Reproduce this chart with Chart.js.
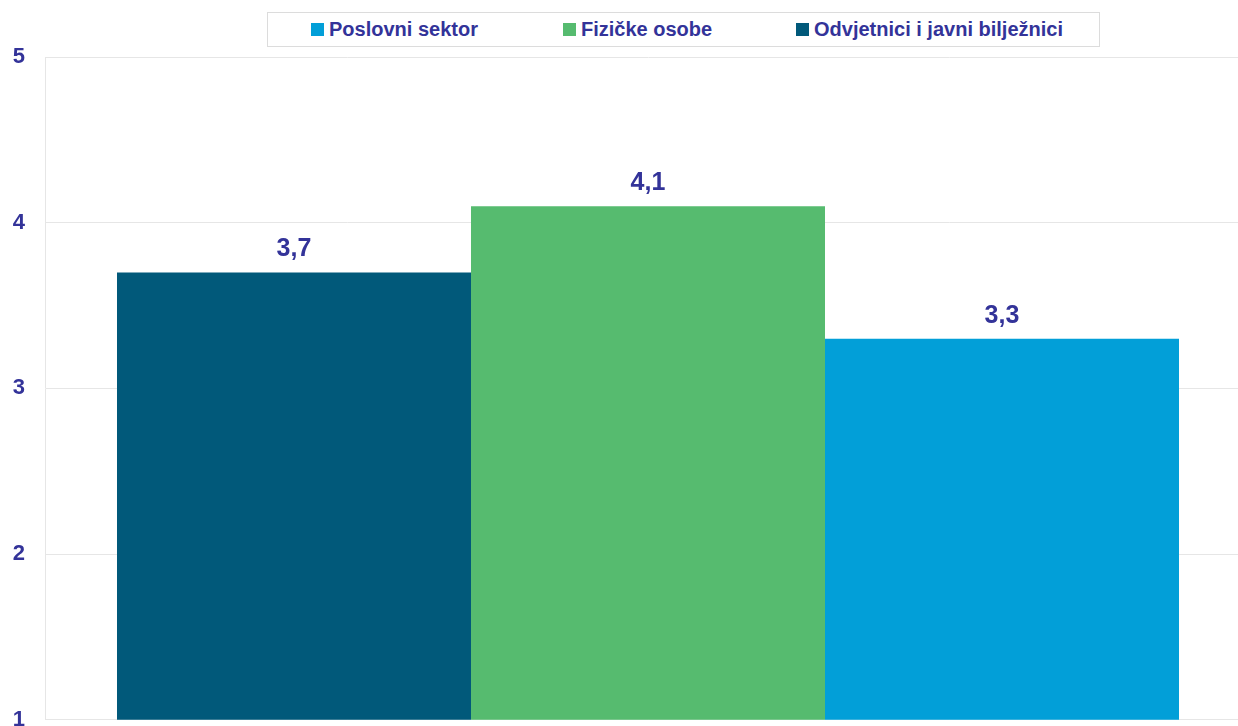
<!DOCTYPE html>
<html>
<head>
<meta charset="utf-8">
<script src="https://cdn.jsdelivr.net/npm/chart.js@4"></script>
<style>
  html, body { margin: 0; padding: 0; overflow: hidden; background: #ffffff; width: 1238px; height: 726px; }
  #c { position: absolute; left: 0; top: 0; }
  #legend { position: absolute; left: 267px; top: 12px; width: 833px; height: 35px; border: 1px solid #dcdcdc; box-sizing: border-box; background: #fff; }
  .item { position: absolute; top: 0; height: 33px; display: flex; align-items: center; font: bold 20px "Liberation Sans", Arial, sans-serif; color: #333399; white-space: nowrap; }
  .sw { width: 13px; height: 13px; margin-right: 5px; }
</style>
</head>
<body>
<canvas id="c" width="1260" height="753"></canvas>
<div id="legend"></div>
<script>
// Data (bars left to right)
const categories = [''];
const seriesNames = ['Odvjetnici i javni bilježnici', 'Fizičke osobe', 'Poslovni sektor'];
const seriesValues = [[3.7], [4.1], [3.3]];
const seriesColors = ['#01597a', '#56bb6f', '#029fd8'];
const yTicks = [1, 2, 3, 4, 5];
// Legend order (as in reference)
const legendOrder = [2, 1, 0];
const legendLeft = [43, 295, 528];

const textColor = '#333399';
const fontFamily = '"Liberation Sans", Arial, sans-serif';

const valueLabels = {
  id: 'valueLabels',
  afterDatasetsDraw(chart) {
    const ctx = chart.ctx;
    ctx.save();
    ctx.font = 'bold 25px ' + fontFamily;
    ctx.fillStyle = textColor;
    ctx.textAlign = 'center';
    ctx.textBaseline = 'alphabetic';
    chart.data.datasets.forEach((ds, i) => {
      const meta = chart.getDatasetMeta(i);
      meta.data.forEach((bar, j) => {
        const v = ds.data[j];
        ctx.fillText(String(v).replace('.', ','), bar.x, bar.y - 16);
      });
    });
    ctx.restore();
  }
};

new Chart(document.getElementById('c'), {
  type: 'bar',
  data: {
    labels: categories,
    datasets: seriesNames.map((n, i) => ({
      label: n,
      data: seriesValues[i],
      backgroundColor: seriesColors[i],
      borderWidth: 0,
      barPercentage: 1.0,
      categoryPercentage: 0.8806
    }))
  },
  options: {
    responsive: false,
    animation: false,
    devicePixelRatio: 1,
    layout: { padding: { top: 57, right: 9, bottom: 26, left: 0 } },
    plugins: { legend: { display: false }, tooltip: { enabled: false } },
    scales: {
      x: { display: false },
      y: {
        min: yTicks[0],
        max: yTicks[yTicks.length - 1],
        afterBuildTicks(scale) { scale.ticks = yTicks.map(v => ({ value: v })); },
        afterFit(scale) { scale.width = 45; },
        grid: { color: '#e6e6e6', lineWidth: 1, drawTicks: false },
        border: { display: true, color: '#e6e6e6', width: 1 },
        ticks: {
          padding: 20,
          color: textColor,
          font: { family: fontFamily, size: 22, weight: 'bold' }
        }
      }
    }
  },
  plugins: [valueLabels]
});

const lg = document.getElementById('legend');
legendOrder.forEach((idx, k) => {
  const it = document.createElement('div');
  it.className = 'item';
  it.style.left = legendLeft[k] + 'px';
  const sw = document.createElement('span');
  sw.className = 'sw';
  sw.style.background = seriesColors[idx];
  const tx = document.createElement('span');
  tx.textContent = seriesNames[idx];
  it.appendChild(sw);
  it.appendChild(tx);
  lg.appendChild(it);
});
</script>
</body>
</html>
